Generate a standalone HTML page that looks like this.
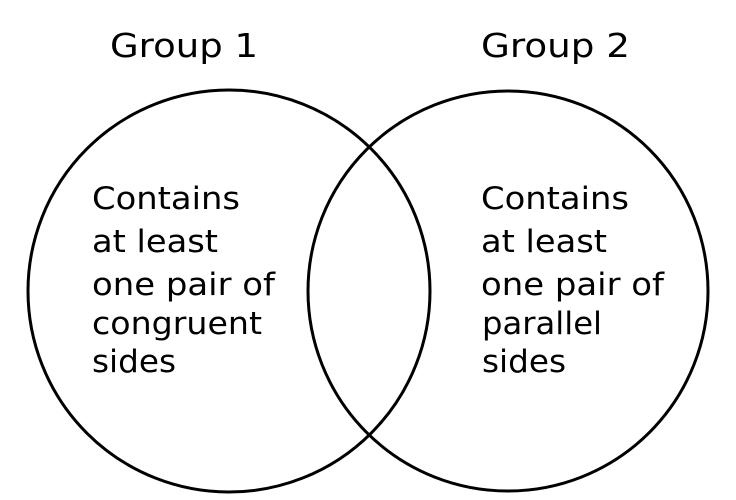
<!DOCTYPE html>
<html><head><meta charset="utf-8"><style>
html,body{margin:0;padding:0;background:#fff;}
svg{display:block;}
text{font-family:"DejaVu Sans","Liberation Sans",sans-serif;font-size:31px;fill:#000;}
.g{font-size:33px;}
</style></head><body>
<svg width="736" height="500" viewBox="0 0 736 500">
<circle cx="229" cy="291" r="201" fill="none" stroke="#000" stroke-width="3"/>
<circle cx="508" cy="291" r="200" fill="none" stroke="#000" stroke-width="3"/>
<text class="g" x="110" y="57" textLength="148" lengthAdjust="spacingAndGlyphs">Group 1</text>
<text class="g" x="481" y="57" textLength="149" lengthAdjust="spacingAndGlyphs">Group 2</text>
<text x="92" y="209" textLength="148" lengthAdjust="spacingAndGlyphs">Contains</text>
<text x="92" y="252" textLength="126" lengthAdjust="spacingAndGlyphs">at least</text>
<text x="92" y="295" textLength="183" lengthAdjust="spacingAndGlyphs">one pair of</text>
<text x="92" y="334" textLength="170" lengthAdjust="spacingAndGlyphs">congruent</text>
<text x="92" y="372" textLength="84" lengthAdjust="spacingAndGlyphs">sides</text>
<text x="481" y="209" textLength="148" lengthAdjust="spacingAndGlyphs">Contains</text>
<text x="481" y="252" textLength="126" lengthAdjust="spacingAndGlyphs">at least</text>
<text x="481" y="295" textLength="183" lengthAdjust="spacingAndGlyphs">one pair of</text>
<text x="482" y="334" textLength="120" lengthAdjust="spacingAndGlyphs">parallel</text>
<text x="482" y="372" textLength="84" lengthAdjust="spacingAndGlyphs">sides</text>
</svg>
</body></html>
